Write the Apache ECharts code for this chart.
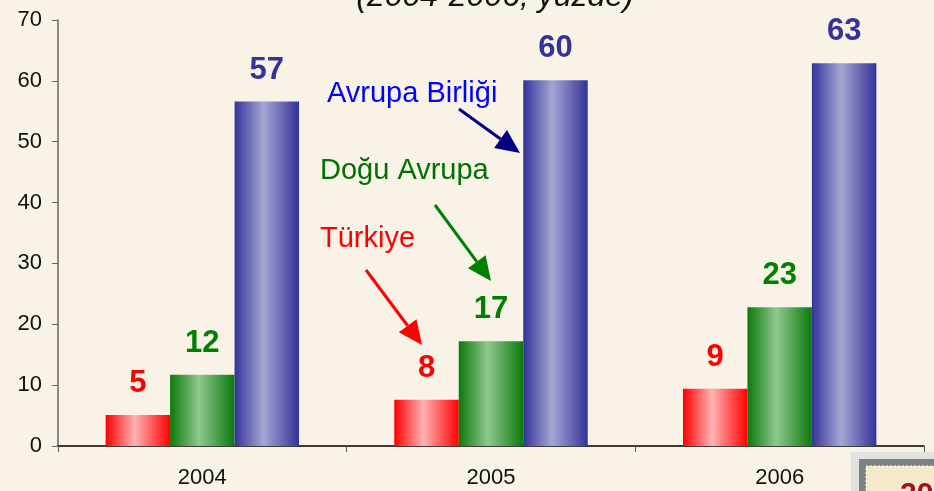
<!DOCTYPE html>
<html>
<head>
<meta charset="utf-8">
<script src="https://cdn.jsdelivr.net/npm/echarts@6/dist/echarts.min.js"></script>
<style>
html, body { margin: 0; padding: 0; background: #F9F2E7; }
#chart { width: 934px; height: 491px; }
</style>
</head>
<body>
<div id="chart"></div>
<script>
var years = ['2004', '2005', '2006'];
var turkiye = [5.1, 7.6, 9.4];
var doguAvrupa = [11.7, 17.2, 22.8];
var avrupaBirligi = [56.6, 60.1, 62.9];

function grad(edge, mid) {
	return new echarts.graphic.LinearGradient(0, 0, 1, 0, [
		{ offset: 0, color: edge },
		{ offset: 0.45, color: mid },
		{ offset: 1, color: edge }
	]);
}

function barSeries(name, data, edge, mid, labelColor) {
	return {
		name: name,
		type: 'bar',
		data: data,
		barGap: '0%',
		barCategoryGap: '33%',
		itemStyle: { color: grad(edge, mid) },
		label: {
			show: true,
			position: 'top',
			distance: 16,
			color: labelColor,
			fontSize: 31,
			fontWeight: 'bold',
			fontFamily: 'Liberation Sans, Arial, sans-serif',
			formatter: function (p) { return Math.round(p.value); }
		}
	};
}

// arrow: line plus triangular head, from (x1,y1) to tip (x2,y2)
function arrow(x1, y1, x2, y2, color) {
	var dx = x2 - x1, dy = y2 - y1;
	var len = Math.sqrt(dx * dx + dy * dy);
	var ux = dx / len, uy = dy / len;
	var hl = 24, hw = 11;
	var bx = x2 - ux * hl, by = y2 - uy * hl;
	return [{
		type: 'line',
		shape: { x1: x1, y1: y1, x2: bx, y2: by },
		style: { stroke: color, lineWidth: 3 }
	}, {
		type: 'polygon',
		shape: { points: [[x2, y2], [bx - uy * hw, by + ux * hw], [bx + uy * hw, by - ux * hw]] },
		style: { fill: color }
	}];
}

var chart = echarts.init(document.getElementById('chart'));
var txtFont = 'Liberation Sans, Arial, sans-serif';
var graphics = [
	{ type: 'text', style: { text: '(2004-2006, yüzde)', x: 495, y: 13, fontSize: 32, fontStyle: 'italic', fontFamily: txtFont, fill: '#111', align: 'center', verticalAlign: 'bottom' } },
	{ type: 'text', style: { text: 'Avrupa Birliği', x: 327, y: 94, fontSize: 29, fontFamily: txtFont, fill: '#0000FF', verticalAlign: 'middle' } },
	{ type: 'text', style: { text: 'Doğu Avrupa', x: 320, y: 171, fontSize: 29, fontFamily: txtFont, fill: '#007000', verticalAlign: 'middle' } },
	{ type: 'text', style: { text: 'Türkiye', x: 320, y: 239, fontSize: 29, fontFamily: txtFont, fill: '#FF0000', verticalAlign: 'middle' } },
	// page number box in the corner
	{ type: 'rect', shape: { x: 851, y: 452, width: 100, height: 60 }, style: { fill: '#E2E2E2' } },
	{ type: 'rect', shape: { x: 859, y: 459, width: 100, height: 60 }, style: { fill: '#808080' } },
	{ type: 'rect', shape: { x: 866, y: 466, width: 100, height: 60 }, style: { fill: '#F4E9C8', stroke: '#FFFFFF', lineWidth: 1, lineDash: [2, 2] } },
	{ type: 'text', style: { text: '20', x: 900, y: 480, fontSize: 30, fontWeight: 'bold', fontFamily: txtFont, fill: '#A0102A' } }
];
graphics = graphics.concat(arrow(459, 109, 520, 153, '#000080'));
graphics = graphics.concat(arrow(435, 205, 491, 281, '#008000'));
graphics = graphics.concat(arrow(366, 270, 422, 345, '#FF0000'));

chart.setOption({
	backgroundColor: '#F9F2E7',
	animation: false,
	grid: { left: 58, right: 10, top: 20, bottom: 45 },
	xAxis: {
		type: 'category',
		data: years,
		axisLine: { lineStyle: { color: '#000', width: 1.5 } },
		axisTick: { show: true, length: 6, lineStyle: { color: '#555' } },
		axisLabel: { color: '#111', fontSize: 22, fontFamily: txtFont, margin: 21 }
	},
	yAxis: {
		type: 'value',
		min: 0,
		max: 70,
		interval: 10,
		splitLine: { show: false },
		axisLine: { show: true, lineStyle: { color: '#666', width: 1.5 } },
		axisTick: { show: true, length: 6, lineStyle: { color: '#666' } },
		axisLabel: { color: '#111', fontSize: 22, fontFamily: txtFont, margin: 16 }
	},
	series: [
		barSeries('Türkiye', turkiye, '#FF0000', '#FFB3B3', '#FF0000'),
		barSeries('Doğu Avrupa', doguAvrupa, '#0B7A0B', '#8FC88F', '#008000'),
		barSeries('Avrupa Birliği', avrupaBirligi, '#333399', '#A6A6D4', '#333399')
	],
	graphic: graphics
});
</script>
</body>
</html>
